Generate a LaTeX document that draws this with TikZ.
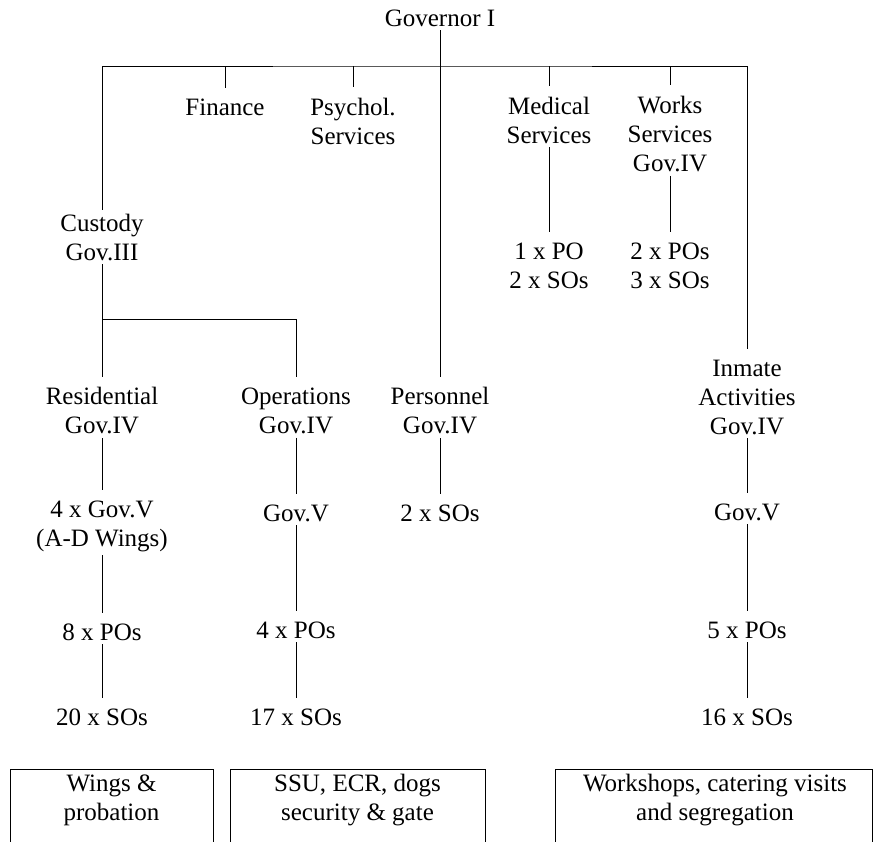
\documentclass[tikz,border=0pt]{standalone}
\usepackage{fontspec}
\setmainfont{Liberation Serif}
\begin{document}
\begin{tikzpicture}[x=1pt,y=-1pt,
  lbl/.style={align=center, inner sep=0pt, outer sep=4pt, font=\fontsize{25}{29}\selectfont},
  link/.style={line width=0.9pt, shorten >=7pt},
  boxframe/.style={draw, line width=0.9pt, anchor=north, minimum height=90pt}]
\useasboundingbox (0,0) rectangle (874,841);
\node[lbl] (gov1) at (440,18){Governor I};
\coordinate (bar) at (440,66);
\node[lbl] (fin) at (225,107){Finance};
\node[lbl] (psy) at (353,121){Psychol.\\Services};
\node[lbl] (med) at (549,120){Medical\\Services};
\node[lbl] (works) at (670,134){Works\\Services\\Gov.IV};
\node[lbl] (medstaff) at (549,266){1 x PO\\2 x SOs};
\node[lbl] (worksstaff) at (670,266){2 x POs\\3 x SOs};
\node[lbl] (cust) at (102,237){Custody\\Gov.III};
\coordinate (custfork) at (102,319);
\node[lbl] (res) at (102,411){Residential\\Gov.IV};
\node[lbl] (ops) at (296,411){Operations\\Gov.IV};
\node[lbl] (pers) at (440,411){Personnel\\Gov.IV};
\node[lbl] (inm) at (747,397){Inmate\\Activities\\Gov.IV};
\node[lbl] (resgov) at (102,526){4 x Gov.V\\(A-D Wings)};
\node[lbl] (opsgov) at (296,513){Gov.V};
\node[lbl] (persso) at (440,513){2 x SOs};
\node[lbl] (inmgov) at (747,512){Gov.V};
\node[lbl] (respo) at (102,632){8 x POs};
\node[lbl] (opspo) at (296,630){4 x POs};
\node[lbl] (inmpo) at (747,630){5 x POs};
\node[lbl] (resso) at (102,717){20 x SOs};
\node[lbl] (opsso) at (296,717){17 x SOs};
\node[lbl] (inmso) at (747,717){16 x SOs};
\node[boxframe, minimum width=203pt] (wingsbox) at (111.5,769){};
\node[boxframe, minimum width=255pt] (secbox) at (357.5,769){};
\node[boxframe, minimum width=317pt] (workbox) at (713.5,769){};
\node[lbl] (wings) at (111.5,800){Wings \&\\probation};
\node[lbl] (sec) at (357.5,800){SSU, ECR, dogs\\security \& gate};
\node[lbl] (work) at (715,800){Workshops, catering visits\\and segregation};
\draw[link] (gov1) -- (pers);
\draw[link] (cust.north) |- (bar) -| (inm.north);
\draw[link] (fin.north |- bar) -- (fin);
\draw[link] (psy.north |- bar) -- (psy);
\draw[link] (med.north |- bar) -- (med);
\draw[link] (works.north |- bar) -- (works);
\draw[link] (med) -- (medstaff);
\draw[link] (works) -- (worksstaff);
\draw[link] (cust) -- (res);
\draw[link] (custfork) -| (ops);
\draw[link] (res) -- (resgov);
\draw[link] (resgov) -- (respo);
\draw[link] (respo) -- (resso);
\draw[link] (ops) -- (opsgov);
\draw[link] (opsgov) -- (opspo);
\draw[link] (opspo) -- (opsso);
\draw[link] (pers) -- (persso);
\draw[link] (inm) -- (inmgov);
\draw[link] (inmgov) -- (inmpo);
\draw[link] (inmpo) -- (inmso);
\end{tikzpicture}
\end{document}
